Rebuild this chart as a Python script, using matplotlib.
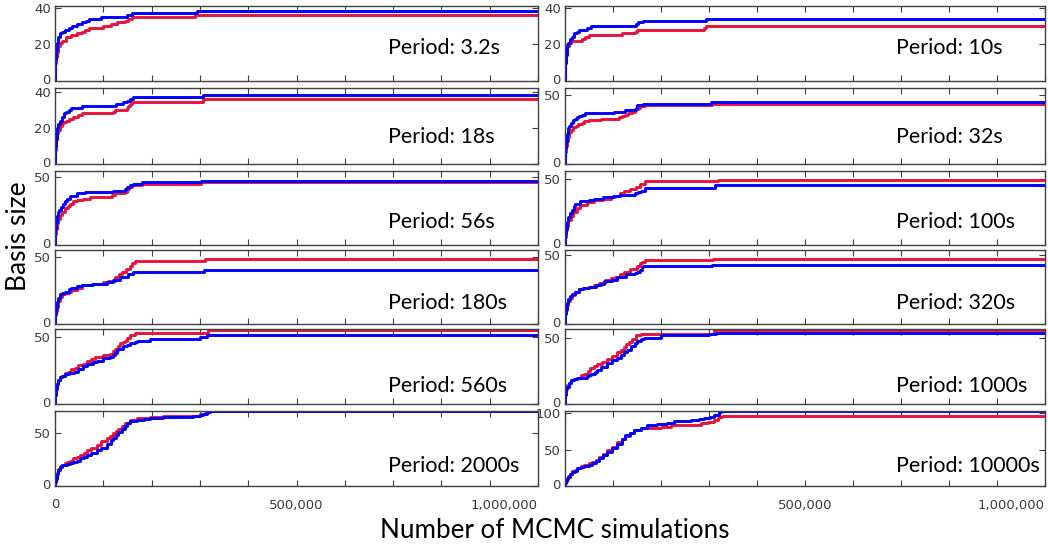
import numpy as np
import matplotlib
matplotlib.use("Agg")
import matplotlib.pyplot as plt
from matplotlib.transforms import ScaledTranslation

# basis size after each enrichment step; x in thousands of MCMC simulations
red_3_2s_x = [0, 1, 2, 4, 7, 10, 15, 22, 34, 45, 55, 62, 71, 100, 115, 128, 145, 152, 160, 290]
red_3_2s_y = [0, 10, 13, 16, 19, 21, 22, 24, 25, 26, 27, 28, 29, 30, 31, 32, 33, 34, 35, 36]
blue_3_2s_x = [0, 1, 2, 4, 7, 10, 14, 20, 30, 36, 45, 55, 64, 70, 95, 150, 160, 293]
blue_3_2s_y = [0, 12, 17, 21, 24, 26, 27, 28, 29, 30, 31, 32, 33, 34, 35, 36, 37, 38]

red_10s_x = [0, 1, 2, 3, 5, 8, 12, 35, 42, 50, 118, 145, 150, 290, 293]
red_10s_y = [0, 10, 13, 16, 19, 21, 22, 23, 24, 25, 26, 27, 28, 29, 30]
blue_10s_x = [0, 1, 2, 3.5, 5, 7, 10, 14, 18, 24, 30, 45, 55, 147, 152, 163, 293]
blue_10s_y = [0, 10, 14, 17, 19, 21, 23, 24, 26, 27, 28, 29, 30, 31, 32, 33, 34]

red_18s_x = [0, 1, 2, 3, 5, 7, 10, 14, 17, 22, 28, 38, 48, 55, 120, 125, 150, 152, 155, 160, 306]
red_18s_y = [0, 8, 11, 14, 17, 19, 21, 22, 23, 24, 25, 26, 27, 28, 29, 30, 31, 32, 33, 34, 36]
blue_18s_x = [0, 1, 2, 3.4, 5, 7, 10, 14, 18, 23, 28, 34, 55, 126, 140, 150, 155, 162, 306]
blue_18s_y = [0, 10, 14, 17, 20, 22, 24, 26, 28, 29, 30, 31, 32, 33, 34, 35, 36, 37, 38]

red_32s_x = [0, 1, 2, 3.5, 6, 9, 13, 17, 22, 28, 35, 40, 50, 75, 112, 118, 124, 132, 139, 146, 152, 156, 166, 306]
red_32s_y = [0, 9, 13, 17, 20, 23, 25, 27, 28, 29, 30, 31, 32, 33, 34, 35, 36, 37, 38, 40, 41, 42, 43, 44]
blue_32s_x = [0, 1, 2, 3.5, 6, 9, 12, 16, 20, 24, 30, 36, 42, 103, 125, 147, 150, 163, 305]
blue_32s_y = [0, 12, 17, 22, 26, 28, 30, 32, 33, 34, 35, 36, 37, 38, 39, 41, 43, 44, 45]

red_56s_x = [0, 1, 2, 3.4, 6, 10, 15, 21, 26, 31, 38, 45, 58, 72, 119, 125, 145, 150, 153, 160, 180, 303]
red_56s_y = [0, 8, 12, 16, 19, 22, 24, 27, 29, 30, 32, 33, 34, 35, 37, 38, 39, 41, 43, 44, 45, 46]
blue_56s_x = [0, 1, 2, 3.4, 6, 9, 13, 17, 21, 25, 32, 45, 62, 120, 145, 150, 155, 162, 180, 303]
blue_56s_y = [0, 12, 16, 21, 24, 26, 28, 30, 32, 34, 36, 38, 39, 40, 41, 43, 44, 45, 46, 47]

red_100s_x = [0, 1, 2, 4, 7, 12, 17, 24, 31, 45, 60, 80, 95, 104, 115, 122, 135, 148, 156, 167, 318]
red_100s_y = [0, 6, 11, 14, 19, 22, 25, 28, 30, 32, 34, 35, 36, 37, 39, 41, 42, 44, 46, 48, 49]
blue_100s_x = [0, 1, 2, 4, 7, 10, 14, 18, 21, 31, 49, 60, 80, 100, 115, 146, 152, 158, 167, 312]
blue_100s_y = [0, 8, 13, 17, 21, 24, 26, 29, 31, 33, 34, 35, 36, 37, 38, 39, 40, 41, 43, 45]

red_180s_x = [0, 1, 2, 3.4, 6, 10, 15, 21, 28, 34, 45, 55, 79, 100, 110, 124, 132, 138, 148, 155, 159, 166, 310]
red_180s_y = [0, 7, 10, 13, 17, 20, 22, 23, 24, 25, 27, 29, 30, 31, 32, 35, 37, 39, 41, 43, 45, 47, 48]
blue_180s_x = [0, 1, 2, 3.4, 6, 10, 15, 21, 28, 34, 45, 55, 76, 107, 121, 134, 152, 162, 308]
blue_180s_y = [0, 8, 12, 16, 19, 22, 23, 24, 26, 27, 28, 29, 30, 31, 33, 35, 37, 39, 40]

red_320s_x = [0, 1, 2, 3.5, 6, 10, 15, 21, 30, 38, 50, 60, 70, 83, 95, 104, 115, 122, 135, 149, 156, 160, 167, 309]
red_320s_y = [0, 7, 10, 14, 17, 19, 21, 23, 25, 26, 27, 28, 30, 32, 33, 34, 36, 38, 40, 42, 44, 45, 46, 47]
blue_320s_x = [0, 1, 2, 3.5, 6, 10, 15, 21, 30, 38, 50, 65, 75, 82, 97, 108, 128, 146, 151, 156, 160, 163, 306]
blue_320s_y = [0, 8, 11, 15, 18, 20, 22, 23, 25, 26, 27, 28, 29, 31, 32, 34, 36, 37, 38, 39, 41, 42, 43]

red_560s_x = [0, 1, 2, 4, 7, 10, 14, 20, 27, 34, 42, 48, 58, 66, 75, 83, 100, 114, 120, 124, 130, 134, 140, 145,
              150, 155, 166, 317]
red_560s_y = [0, 7, 11, 15, 18, 20, 21, 23, 24, 26, 27, 29, 30, 32, 33, 35, 36, 37, 39, 41, 43, 45, 46, 47,
              49, 51, 53, 55]
blue_560s_x = [0, 1, 2, 4, 7, 10, 14, 20, 30, 40, 48, 58, 66, 78, 86, 100, 114, 120, 124, 128, 131, 141, 150,
               155, 165, 169, 197, 300, 314]
blue_560s_y = [0, 7, 11, 15, 18, 20, 21, 22, 23, 24, 26, 28, 30, 31, 32, 34, 35, 36, 38, 40, 41, 43, 44,
               45, 46, 47, 48, 50, 51]

red_1000s_x = [0, 1, 3, 5, 8, 12, 18, 26, 33, 40, 47, 53, 60, 67, 78, 88, 98, 109, 116, 123, 128, 133, 140,
               147, 158, 310]
red_1000s_y = [0, 8, 12, 14, 16, 18, 19, 20, 22, 23, 25, 27, 29, 30, 32, 34, 36, 39, 41, 43, 45, 47, 49,
               52, 53, 56]
blue_1000s_x = [0, 1, 3, 5, 8, 12, 18, 26, 45, 50, 55, 62, 67, 75, 88, 98, 109, 116, 123, 130, 137, 145, 151,
                158, 165, 199, 300, 314]
blue_1000s_y = [0, 7, 11, 13, 16, 18, 19, 20, 21, 22, 23, 24, 26, 28, 31, 33, 35, 37, 39, 41, 44, 46, 48,
                49, 50, 52, 53, 54]

red_2000s_x = [0, 1, 2, 4, 7, 10, 14, 20, 24, 31, 38, 45, 52, 60, 66, 75, 86, 96, 107, 114, 121, 126, 131,
               138, 145, 155, 169, 197, 224, 300, 310, 314, 321]
red_2000s_y = [0, 5, 8, 12, 16, 19, 20, 22, 23, 24, 26, 27, 29, 31, 34, 36, 39, 42, 45, 47, 50, 52, 54,
               57, 59, 62, 64, 65, 66, 68, 69, 70, 71]
blue_2000s_x = [0, 1, 2, 4, 7, 10, 14, 24, 32, 38, 45, 52, 60, 66, 75, 86, 95, 107, 115, 121, 126, 131, 138,
                145, 150, 155, 169, 185, 197, 224, 286, 300, 307, 314, 321]
blue_2000s_y = [0, 4, 7, 11, 15, 18, 20, 21, 22, 23, 24, 26, 27, 29, 31, 34, 36, 40, 43, 45, 48, 51, 54,
                57, 59, 61, 62, 63, 64, 65, 66, 67, 68, 70, 71]

red_10000s_x = [0, 1, 2, 4, 6, 10, 15, 20, 26, 33, 40, 50, 57, 64, 71, 80, 88, 98, 109, 118, 126, 135, 144,
                158, 171, 199, 220, 241, 283, 297, 310, 318, 321, 328]
red_10000s_y = [0, 5, 8, 11, 14, 17, 20, 22, 25, 27, 29, 31, 33, 36, 40, 44, 49, 54, 60, 64, 69, 73, 77,
                79, 80, 81, 83, 84, 86, 88, 90, 93, 95, 96]
blue_10000s_x = [0, 1, 2, 4, 6, 10, 15, 20, 26, 33, 40, 50, 57, 64, 71, 80, 88, 98, 109, 118, 126, 135, 144,
                 158, 171, 192, 213, 227, 262, 280, 290, 303, 310, 314, 320, 324]
blue_10000s_y = [0, 4, 7, 10, 12, 16, 19, 21, 24, 26, 27, 29, 31, 34, 38, 42, 47, 52, 58, 64, 70, 73, 77,
                 80, 84, 85, 86, 89, 90, 92, 93, 95, 97, 98, 101, 103]

periods = ["3.2s", "10s", "18s", "32s", "56s", "100s",
           "180s", "320s", "560s", "1000s", "2000s", "10000s"]
red_x = [red_3_2s_x, red_10s_x, red_18s_x, red_32s_x, red_56s_x, red_100s_x,
         red_180s_x, red_320s_x, red_560s_x, red_1000s_x, red_2000s_x, red_10000s_x]
red_y = [red_3_2s_y, red_10s_y, red_18s_y, red_32s_y, red_56s_y, red_100s_y,
         red_180s_y, red_320s_y, red_560s_y, red_1000s_y, red_2000s_y, red_10000s_y]
blue_x = [blue_3_2s_x, blue_10s_x, blue_18s_x, blue_32s_x, blue_56s_x, blue_100s_x,
          blue_180s_x, blue_320s_x, blue_560s_x, blue_1000s_x, blue_2000s_x, blue_10000s_x]
blue_y = [blue_3_2s_y, blue_10s_y, blue_18s_y, blue_32s_y, blue_56s_y, blue_100s_y,
          blue_180s_y, blue_320s_y, blue_560s_y, blue_1000s_y, blue_2000s_y, blue_10000s_y]
y_top = [41, 41, 42, 55.3, 54.4, 55.7, 55, 53.6, 55.6, 56.7, 70.7, 102.8]
y_ticks = [[0, 20, 40], [0, 20, 40], [0, 20, 40], [0, 50], [0, 50], [0, 50],
           [0, 50], [0, 50], [0, 50], [0, 50], [0, 50], [0, 50, 100]]
n_sims = 1_000_000

# panel layout in pixels (top, bottom) per row, columns (left, right)
row_px = [(6, 81), (88, 164), (171, 245), (250, 324), (329, 404), (411, 486)]
col_px = [(55, 538), (565, 1045)]
label_frac = [0.435, 0.35, 0.31, 0.285, 0.24, 0.27]

W, H = 1048, 547
fig = plt.figure(figsize=(W / 100, H / 100), dpi=100)

RED = "#e8123c"
BLUE = "#0000ff"
EDGE = "#404040"
lift = ScaledTranslation(0, 2 / 100, fig.dpi_scale_trans)

for i, period in enumerate(periods):
    r, c = divmod(i, 2)
    top, bot = row_px[r]
    x0, x1 = col_px[c]
    ax = fig.add_axes([x0 / W, 1 - bot / H, (x1 - x0) / W, (bot - top) / H])

    for xs, ys, color in ((red_x[i], red_y[i], RED), (blue_x[i], blue_y[i], BLUE)):
        xs = np.array(xs + [n_sims / 1000]) * 1000
        ys = np.array(ys + [ys[-1]])
        ax.step(xs, ys, where="post", color=color, lw=2.1)

    ax.set_xlim(0, n_sims)
    ax.set_ylim(0, y_top[i])
    ax.set_yticks(y_ticks[i])
    ax.set_xticks(np.arange(0, n_sims + 1, 100_000))
    labels = [""] * 11
    if r == 5:
        if c == 0:
            labels[0] = "0"
        labels[5] = "500,000"
        labels[10] = "1,000,000"
    ax.set_xticklabels(labels)
    if r == 5:
        ax.get_xticklabels()[10].set_ha("right")

    ax.tick_params(direction="in", top=True, right=True, length=4, width=0.8,
                   color=EDGE, labelcolor="#3a3a3a", pad=3)
    ax.tick_params(axis="y", labelsize=9.5)
    ax.tick_params(axis="x", labelsize=9.5, pad=9)
    # keep the zero label clear of the panel below's top label
    zero = ax.get_yticklabels()[0]
    zero.set_transform(zero.get_transform() + lift)
    for s in ax.spines.values():
        s.set_color(EDGE)
        s.set_linewidth(1.0)

    ax.text(0.69, label_frac[r], "Period: " + period, transform=ax.transAxes,
            ha="left", va="center", fontsize=15.5, family="Lato", color="black")

fig.text(19 / W, 1 - 236 / H, "Basis size", rotation=90, ha="center", va="center",
         fontsize=19, family="Lato")
fig.text(555 / W, 1 - 530 / H, "Number of MCMC simulations", ha="center", va="center",
         fontsize=18.7, family="Lato")

fig.savefig("out.png", dpi=100)
